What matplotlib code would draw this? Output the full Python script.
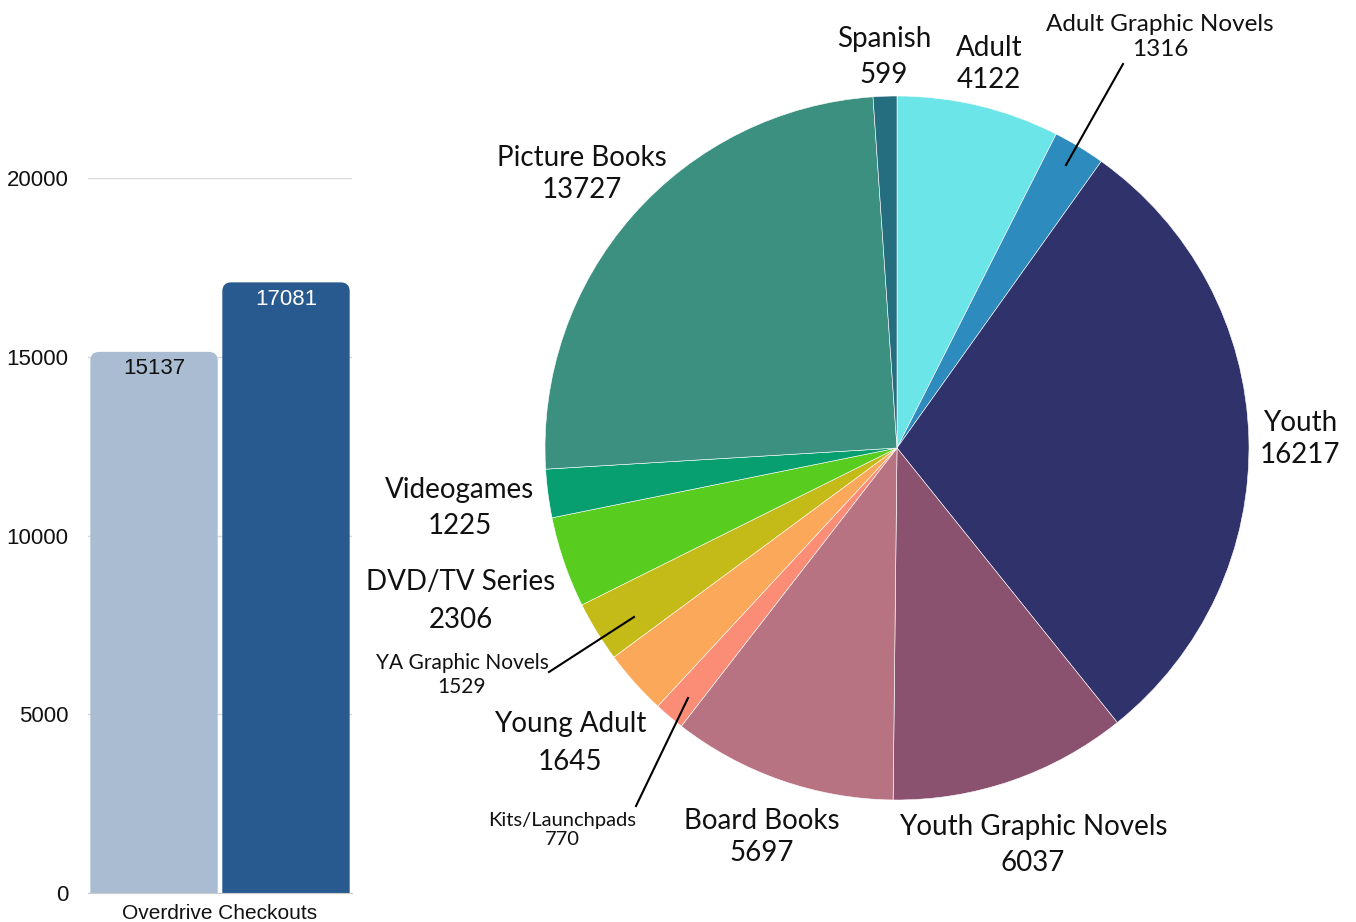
import matplotlib
matplotlib.use("Agg")
from matplotlib import pyplot as plt
from matplotlib.patches import FancyBboxPatch

# bar chart data
bar_values = [15137, 17081]
bar_colors = ['#a9bcd1', '#285a8f']
bar_text_colors = ['#111111', 'white']
bar_category = 'Overdrive Checkouts'
bar_ticks = [0, 5000, 10000, 15000, 20000]

# pie chart data (clockwise from the top)
pie_labels = ['Adult', 'Adult Graphic Novels', 'Youth', 'Youth Graphic Novels',
              'Board Books', 'Kits/Launchpads', 'Young Adult', 'YA Graphic Novels',
              'DVD/TV Series', 'Videogames', 'Picture Books', 'Spanish']
pie_values = [4122, 1316, 16217, 6037, 5697, 770, 1645, 1529, 2306, 1225, 13727, 599]
pie_colors = ['#6be5e8', '#2e8bbd', '#30336b', '#8b5270', '#b87383', '#fb8d77',
              '#fba85b', '#c4ba18', '#58cc1f', '#079e70', '#3b9080', '#246e80']

# label placement in pixels (center x, center y), font size, line spacing
label_pos = {
    'Adult': (989, 64, 20, 1.26),
    'Adult Graphic Novels': (1160, 37, 17.5, 1.24),
    'Youth': (1300, 439, 20, 1.3),
    'Youth Graphic Novels': (1033, 845, 20, 1.52),
    'Board Books': (762, 837, 20, 1.3),
    'Kits/Launchpads': (562, 830, 14.5, 1.14),
    'Young Adult': (570, 743, 20, 1.56),
    'YA Graphic Novels': (462, 675, 15, 1.27),
    'DVD/TV Series': (461, 601, 20, 1.56),
    'Videogames': (460, 508, 20, 1.52),
    'Picture Books': (582, 174, 20, 1.3),
    'Spanish': (884, 57, 20, 1.48),
}
leaders = {
    'Adult Graphic Novels': ((1123, 64), (1066, 165)),
    'YA Graphic Novels': ((549, 672), (634, 617)),
    'Kits/Launchpads': ((636, 806), (688, 698)),
}

W, H = 1356, 922
fig = plt.figure(figsize=(W / 100, H / 100), dpi=100)

# ---- bar chart ----
ax = fig.add_axes([88 / W, (H - 893) / H, 264 / W, 715 / H])
xs = [-0.5, 0.5]
bars = ax.bar(xs, bar_values, width=0.965, color=bar_colors, zorder=2)
ax.set_xlim(-1, 1)
ax.set_ylim(0, 20000)
# rounded tops
xpix = 264 / 2.0
ypix = 715 / 20000.0
r = 9 / xpix
for b, c in zip(bars, bar_colors):
    b.set_visible(False)
    p = FancyBboxPatch((b.get_x(), -1000), b.get_width(), b.get_height() + 1000,
                       boxstyle='round,pad=0,rounding_size=%f' % r,
                       mutation_aspect=(9 / ypix) / r, facecolor=c,
                       edgecolor='none', zorder=2)
    ax.add_patch(p)
for x, v, tc in zip(xs, bar_values, bar_text_colors):
    ax.text(x, v - 180, str(v), ha='center', va='top', fontsize=16,
            color=tc, family='Liberation Sans', zorder=3)
ax.set_yticks(bar_ticks)
ax.set_yticklabels([str(t) for t in bar_ticks], family='Liberation Sans', fontsize=16)
ax.tick_params(axis='y', length=0, pad=14, labelcolor='#111111')
ax.set_xticks([0])
ax.set_xticklabels([bar_category], family='Liberation Sans', fontsize=15)
ax.tick_params(axis='x', length=0, pad=8, labelcolor='#111111')
ax.grid(axis='y', color='#d9d9d9', linewidth=1, zorder=0)
for s in ['top', 'right', 'left']:
    ax.spines[s].set_visible(False)
ax.spines['bottom'].set_color('#cccccc')

# ---- pie chart ----
cx, cy, R = 897, 448, 352
pax = fig.add_axes([(cx - R) / W, (H - cy - R) / H, 2 * R / W, 2 * R / H])
pax.pie(pie_values, colors=pie_colors, startangle=90, counterclock=False,
        radius=1, wedgeprops=dict(edgecolor='white', linewidth=0.4))
pax.set_xlim(-1, 1)
pax.set_ylim(-1, 1)
pax.set_aspect('equal')
pax.axis('off')


def to_data(px, py):
    return (px - cx) / R, (cy - py) / R


for name, val in zip(pie_labels, pie_values):
    px, py, fs, ls = label_pos[name]
    x, y = to_data(px, py)
    pax.text(x, y, name + '\n' + str(val), ha='center', va='center',
             fontsize=fs, linespacing=ls, family='Lato', color='#111111',
             clip_on=False)
for name, (p0, p1) in leaders.items():
    x0, y0 = to_data(*p0)
    x1, y1 = to_data(*p1)
    pax.plot([x0, x1], [y0, y1], color='black', linewidth=1.5, clip_on=False)

fig.savefig('out.png', dpi=100)
